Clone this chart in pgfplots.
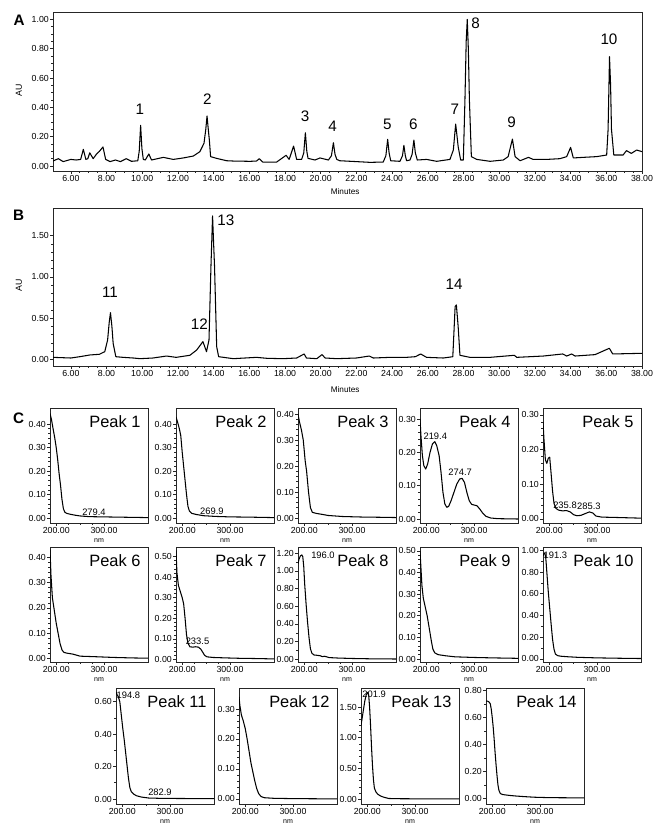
\documentclass[border=0pt]{standalone}
\usepackage{fontspec}
\setmainfont{Liberation Sans}
\usepackage{pgfplots}
\pgfplotsset{compat=1.18}

\tikzset{
  trace/.style={black, line width=0.9pt, mark=none, line join=round},
  pk/.style={anchor=north east, inner sep=0pt, xshift=-0.22cm, yshift=-0.23cm, font=\fontsize{14}{14}\selectfont},
  wl/.style={inner sep=0.5pt, font=\fontsize{8}{8}\selectfont},
  num/.style={inner sep=0pt, font=\fontsize{13}{13}\selectfont},
}
\pgfplotsset{
  base/.style={scale only axis, anchor=north west, clip mode=individual,
    /pgf/number format/assume math mode=true,
    scaled ticks=false, tick align=outside, tick pos=left,
    axis line style={black!85, line width=0.6pt},
    every tick/.style={black!85, line width=0.5pt},
    major tick length=2.4pt, minor tick length=1.4pt,
    ticklabel style={font=\fontsize{7.5}{8}\selectfont},
    yticklabel style={inner sep=1pt,/pgf/number format/.cd, fixed, fixed zerofill, precision=2},
    xticklabel style={inner sep=1pt,/pgf/number format/.cd, fixed, fixed zerofill, precision=2}},
  chrom/.style={base, width=17.67cm, xmin=5, xmax=38, xtick={6,8,...,38}, minor x tick num=3},
  spec/.style={base, width=2.94cm, height=3.45cm, xmin=187, xmax=392, xtick={200,300},
    minor x tick num=3, minor y tick num=4,
    xlabel={nm}, xlabel style={at={(axis description cs:0.5,0)}, anchor=center, yshift=-0.52cm, inner sep=0pt, font=\fontsize{6}{6}\selectfont}},
}

\begin{document}
\begin{tikzpicture}
\useasboundingbox (0,0) rectangle (19.92cm,-25.05cm);

\node[font=\bfseries\fontsize{13}{13}\selectfont] at (0.57cm,-0.6cm) {A};
\node[font=\bfseries\fontsize{13}{13}\selectfont] at (0.56cm,-6.45cm) {B};
\node[font=\bfseries\fontsize{13}{13}\selectfont] at (0.56cm,-12.54cm) {C};

% ---------- A ----------
\begin{axis}[chrom, at={(1.59cm,-0.36cm)}, height=4.77cm,
  ymin=-0.034, ymax=1.05, ytick={0,0.2,0.4,0.6,0.8,1.0}, minor y tick num=3]
\addplot[trace] coordinates {
(5.0,0.034)(5.3,0.050)(5.57,0.030)(6.0,0.045)(6.3,0.041)(6.55,0.045)(6.7,0.114)(6.84,0.045)
(6.95,0.05)(7.06,0.09)(7.25,0.05)(7.43,0.08)(7.6,0.10)(7.8,0.13)(7.95,0.045)(8.2,0.03)
(8.5,0.041)(8.78,0.03)(9.1,0.05)(9.4,0.032)(9.75,0.036)(9.83,0.10)(9.91,0.277)(9.98,0.12)
(10.06,0.045)(10.17,0.041)(10.37,0.082)(10.52,0.041)(11.18,0.059)(11.74,0.045)(12.3,0.055)
(12.86,0.068)(13.23,0.098)(13.46,0.155)(13.56,0.25)(13.63,0.341)(13.7,0.25)(13.76,0.177)
(13.83,0.064)(14.17,0.052)(14.73,0.036)(15.1,0.034)(16.04,0.032)(16.4,0.034)(16.56,0.05)
(16.75,0.027)(17.53,0.027)(18.06,0.073)(18.23,0.045)(18.48,0.136)(18.65,0.045)(18.93,0.045)
(19.05,0.09)(19.14,0.227)(19.22,0.10)(19.29,0.052)(19.68,0.041)(19.96,0.055)(20.43,0.041)
(20.6,0.07)(20.71,0.159)(20.8,0.08)(20.9,0.045)(21.07,0.036)(22.0,0.03)(22.76,0.025)
(23.5,0.027)(23.65,0.07)(23.75,0.182)(23.83,0.09)(23.92,0.036)(24.44,0.032)(24.58,0.07)
(24.66,0.141)(24.74,0.07)(24.81,0.036)(25.0,0.041)(25.12,0.08)(25.22,0.177)(25.3,0.09)
(25.41,0.041)(25.93,0.045)(26.5,0.032)(27.24,0.045)(27.43,0.109)(27.56,0.286)(27.64,0.2)
(27.7,0.132)(27.84,0.041)(27.99,0.041)(28.08,0.45)(28.15,0.85)(28.21,0.999)(28.27,0.8)
(28.33,0.45)(28.44,0.064)(28.74,0.045)(29.49,0.032)(30.23,0.041)(30.5,0.064)(30.74,0.184)
(30.89,0.064)(31.17,0.036)(31.64,0.059)(31.9,0.045)(32.66,0.045)(33.4,0.05)(33.78,0.064)
(34.0,0.127)(34.15,0.055)(34.7,0.059)(35.46,0.064)(36.02,0.075)(36.1,0.25)(36.18,0.745)
(36.24,0.55)(36.29,0.25)(36.42,0.075)(36.94,0.075)(37.13,0.105)(37.4,0.086)(37.7,0.109)
(38.0,0.098)};
\node[num] at (axis cs:9.87,0.39) {1};
\node[num] at (axis cs:13.65,0.455) {2};
\node[num] at (axis cs:19.13,0.336) {3};
\node[num] at (axis cs:20.67,0.27) {4};
\node[num] at (axis cs:23.73,0.284) {5};
\node[num] at (axis cs:25.19,0.284) {6};
\node[num] at (axis cs:27.52,0.386) {7};
\node[num] at (axis cs:28.68,0.973) {8};
\node[num] at (axis cs:30.7,0.295) {9};
\node[num] at (axis cs:36.15,0.866) {10};
\node[rotate=90, font=\fontsize{7.5}{8}\selectfont] at (axis description cs:-0.058,0.509) {AU};
\node[font=\fontsize{7}{7}\selectfont] at (axis description cs:0.496,-0.132) {Minutes};
\end{axis}

% ---------- B ----------
\begin{axis}[chrom, at={(1.59cm,-6.24cm)}, height=4.74cm,
  ymin=-0.081, ymax=1.836, ytick={0,0.5,1.0,1.5}, minor y tick num=4]
\addplot[trace] coordinates {
(5.0,0.024)(6.0,0.016)(6.5,0.032)(7.07,0.053)(7.6,0.061)(7.9,0.093)(8.06,0.235)(8.15,0.45)
(8.22,0.567)(8.3,0.40)(8.37,0.194)(8.52,0.032)(8.93,0.024)(9.5,0.016)(9.87,0.008)(10.6,0.016)
(11.36,0.040)(11.9,0.024)(12.67,0.049)(13.05,0.113)(13.4,0.215)(13.6,0.093)(13.74,0.235)
(13.85,1.13)(13.94,1.74)(14.0,1.4)(14.05,1.13)(14.17,0.154)(14.28,0.032)(15.1,0.008)
(16.4,0.024)(17.0,0.012)(17.9,0.008)(18.65,0.016)(19.07,0.065)(19.2,0.016)(19.78,0.008)
(20.07,0.057)(20.25,0.016)(20.9,0.008)(22.0,0.016)(22.72,0.04)(22.95,0.016)(23.88,0.024)
(24.8,0.024)(25.3,0.032)(25.6,0.065)(25.93,0.024)(26.87,0.016)(27.4,0.032)(27.53,0.64)
(27.6,0.66)(27.7,0.397)(27.8,0.049)(28.36,0.024)(29.48,0.024)(30.85,0.049)(30.98,0.024)
(32.47,0.040)(33.56,0.065)(33.78,0.040)(34.06,0.065)(34.25,0.040)(35.37,0.057)(36.17,0.134)
(36.36,0.065)(38.0,0.073)};
\node[num] at (axis cs:8.19,0.81) {11};
\node[num] at (axis cs:13.2,0.43) {12};
\node[num] at (axis cs:14.69,1.69) {13};
\node[num] at (axis cs:27.47,0.91) {14};
\node[rotate=90, font=\fontsize{7.5}{8}\selectfont] at (axis description cs:-0.058,0.513) {AU};
\node[font=\fontsize{7}{7}\selectfont] at (axis description cs:0.496,-0.152) {Minutes};
\end{axis}

% ---------- C, row 1 ----------
\begin{axis}[spec, at={(1.5cm,-12.24cm)}, ymin=-0.021, ymax=0.468, ytick={0,0.1,0.2,0.3,0.4}]
\addplot[trace] coordinates {(187,0.445)(190,0.42)(193,0.385)(197,0.34)(200,0.30)(203,0.25)(206,0.19)
(209,0.14)(212,0.08)(215,0.04)(218,0.025)(222,0.02)(230,0.016)(240,0.012)(250,0.009)(270,0.006)
(300,0.005)(330,0.004)(360,0.003)(392,0.002)};
\node[pk] at (rel axis cs:1,1) {Peak 1};
\node[wl, anchor=south] at (axis cs:279,0.008) {279.4};
\end{axis}

\begin{axis}[spec, at={(5.28cm,-12.24cm)}, ymin=-0.021, ymax=0.468, ytick={0,0.1,0.2,0.3,0.4}]
\addplot[trace] coordinates {(187,0.43)(190,0.41)(194,0.38)(197,0.35)(200,0.28)(203,0.22)(206,0.16)
(209,0.10)(212,0.05)(215,0.03)(220,0.02)(230,0.015)(245,0.01)(270,0.007)(300,0.005)(340,0.004)(392,0.002)};
\node[pk] at (rel axis cs:1,1) {Peak 2};
\node[wl, anchor=south] at (axis cs:262,0.01) {269.9};
\end{axis}

\begin{axis}[spec, at={(8.94cm,-12.24cm)}, ymin=-0.019, ymax=0.423, ytick={0,0.1,0.2,0.3,0.4}]
\addplot[trace] coordinates {(187,0.40)(190,0.37)(194,0.34)(198,0.30)(202,0.22)(205,0.18)(209,0.10)
(213,0.04)(217,0.022)(225,0.018)(235,0.015)(250,0.01)(280,0.006)(320,0.004)(360,0.003)(392,0.002)};
\node[pk] at (rel axis cs:1,1) {Peak 3};
\end{axis}

\begin{axis}[spec, at={(12.6cm,-12.24cm)}, ymin=-0.012, ymax=0.333, ytick={0,0.1,0.2,0.3}]
\addplot[trace] coordinates {(187,0.30)(189,0.25)(192,0.19)(195,0.16)(199,0.15)(203,0.165)(208,0.20)
(213,0.225)(218,0.232)(222,0.22)(227,0.19)(231,0.14)(235,0.08)(239,0.045)(243,0.035)(247,0.038)
(252,0.055)(258,0.08)(264,0.105)(270,0.12)(275,0.122)(280,0.11)(285,0.08)(290,0.055)(295,0.044)
(300,0.042)(306,0.04)(312,0.03)(318,0.018)(325,0.008)(335,0.003)(350,0.001)(392,0.0)};
\node[pk] at (rel axis cs:1,1) {Peak 4};
\node[wl, anchor=south] at (axis cs:219,0.236) {219.4};
\node[wl, anchor=south] at (axis cs:271,0.127) {274.7};
\end{axis}

\begin{axis}[spec, at={(16.29cm,-12.24cm)}, ymin=-0.012, ymax=0.32, ytick={0,0.1,0.2,0.3}]
\addplot[trace] coordinates {(187,0.28)(189,0.23)(192,0.17)(195,0.16)(198,0.175)(201,0.178)(204,0.13)
(207,0.08)(210,0.045)(214,0.03)(220,0.025)(228,0.023)(236,0.024)(244,0.02)(251,0.012)(258,0.009)
(266,0.01)(275,0.015)(284,0.02)(291,0.017)(298,0.008)(310,0.005)(340,0.004)(392,0.002)};
\node[pk] at (rel axis cs:1,1) {Peak 5};
\node[wl, anchor=south] at (axis cs:233,0.027) {235.8};
\node[wl, anchor=south] at (axis cs:283,0.025) {285.3};
\end{axis}

% ---------- C, row 2 ----------
\begin{axis}[spec, at={(1.5cm,-16.41cm)}, ymin=-0.013, ymax=0.44, ytick={0,0.1,0.2,0.3,0.4}]
\addplot[trace] coordinates {(187,0.43)(189,0.33)(192,0.24)(196,0.19)(200,0.14)(204,0.10)(208,0.06)
(212,0.035)(216,0.025)(222,0.022)(235,0.018)(250,0.01)(280,0.008)(320,0.005)(360,0.003)(392,0.002)};
\node[pk] at (rel axis cs:1,1) {Peak 6};
\end{axis}

\begin{axis}[spec, at={(5.28cm,-16.41cm)}, ymin=-0.012, ymax=0.546, ytick={0,0.1,0.2,0.3,0.4,0.5}]
\addplot[trace] coordinates {(187,0.53)(189,0.42)(192,0.36)(196,0.33)(200,0.30)(203,0.27)(206,0.20)
(209,0.12)(212,0.08)(216,0.062)(222,0.06)(228,0.062)(234,0.06)(239,0.05)(243,0.035)(247,0.02)
(252,0.013)(265,0.01)(290,0.008)(320,0.006)(350,0.005)(392,0.003)};
\node[pk] at (rel axis cs:1,1) {Peak 7};
\node[wl] at (axis cs:232,0.09) {233.5};
\end{axis}

\begin{axis}[spec, at={(8.94cm,-16.41cm)}, ymin=-0.03, ymax=1.27, ytick={0,0.2,0.4,0.6,0.8,1.0,1.2}, minor y tick num=1]
\addplot[trace] coordinates {(187,1.08)(189,1.13)(192,1.17)(195,1.18)(197,1.16)(199,1.05)(201,0.85)
(204,0.62)(207,0.42)(210,0.25)(213,0.12)(216,0.07)(220,0.05)(228,0.045)(234,0.04)(238,0.03)
(242,0.035)(246,0.03)(252,0.02)(270,0.015)(300,0.01)(340,0.006)(392,0.004)};
\node[pk] at (rel axis cs:1,1) {Peak 8};
\node[wl, anchor=west] at (axis cs:213,1.18) {196.0};
\end{axis}

\begin{axis}[spec, at={(12.6cm,-16.41cm)}, ymin=-0.014, ymax=0.518, ytick={0,0.1,0.2,0.3,0.4,0.5}]
\addplot[trace] coordinates {(187,0.50)(189,0.42)(191,0.34)(194,0.28)(198,0.24)(202,0.20)(205,0.16)
(208,0.12)(211,0.08)(214,0.045)(218,0.028)(225,0.02)(240,0.015)(260,0.01)(300,0.007)(340,0.005)(392,0.003)};
\node[pk] at (rel axis cs:1,1) {Peak 9};
\end{axis}

\begin{axis}[spec, at={(16.29cm,-16.41cm)}, ymin=-0.028, ymax=1.03, ytick={0,0.2,0.4,0.6,0.8,1.0}, minor y tick num=1]
\addplot[trace] coordinates {(187,0.95)(189,0.97)(191,0.975)(193,0.92)(195,0.80)(198,0.62)(201,0.47)
(204,0.32)(207,0.18)(210,0.09)(213,0.045)(218,0.03)(225,0.025)(240,0.02)(260,0.015)(300,0.01)
(340,0.007)(392,0.004)};
\node[pk] at (rel axis cs:1,1) {Peak 10};
\node[wl] at (axis cs:213,0.955) {191.3};
\end{axis}

% ---------- C, row 3 ----------
\begin{axis}[spec, at={(3.48cm,-20.64cm)}, height=3.48cm, ymin=-0.031, ymax=0.685, ytick={0,0.2,0.4,0.6}, minor y tick num=1]
\addplot[trace] coordinates {(187,0.66)(189,0.645)(192,0.63)(195,0.60)(198,0.52)(201,0.44)(204,0.37)
(207,0.29)(210,0.21)(213,0.13)(216,0.07)(219,0.045)(224,0.03)(230,0.02)(240,0.012)(255,0.006)
(280,0.004)(320,0.003)(392,0.002)};
\node[pk] at (rel axis cs:1,1) {Peak 11};
\node[wl] at (axis cs:213,0.642) {194.8};
\node[wl] at (axis cs:279,0.039) {282.9};
\end{axis}

\begin{axis}[spec, at={(7.17cm,-20.64cm)}, height=3.48cm, ymin=-0.017, ymax=0.37, ytick={0,0.1,0.2,0.3}]
\addplot[trace] coordinates {(187,0.34)(189,0.31)(192,0.28)(196,0.26)(200,0.235)(204,0.20)(208,0.16)
(212,0.12)(216,0.09)(220,0.06)(224,0.035)(228,0.018)(233,0.008)(240,0.004)(260,0.002)(300,0.001)(392,0.0)};
\node[pk] at (rel axis cs:1,1) {Peak 12};
\end{axis}

\begin{axis}[spec, at={(10.83cm,-20.64cm)}, height=3.48cm, ymin=-0.08, ymax=1.81, ytick={0,0.5,1.0,1.5}]
\addplot[trace] coordinates {(187,1.20)(189,1.30)(192,1.45)(195,1.60)(198,1.70)(201,1.74)(203,1.70)
(205,1.50)(207,1.20)(209,0.85)(211,0.55)(213,0.32)(215,0.18)(218,0.12)(222,0.08)(228,0.05)
(235,0.03)(245,0.01)(270,0.006)(320,0.004)(392,0.003)};
\node[pk] at (rel axis cs:1,1) {Peak 13};
\node[wl] at (axis cs:214.6,1.70) {201.9};
\end{axis}

\begin{axis}[spec, at={(14.58cm,-20.64cm)}, height=3.48cm, ymin=-0.042, ymax=0.817, ytick={0,0.2,0.4,0.6,0.8}, minor y tick num=1]
\addplot[trace] coordinates {(187,0.72)(190,0.72)(193,0.715)(196,0.70)(198,0.66)(200,0.60)(202,0.53)
(204,0.44)(206,0.34)(208,0.25)(210,0.17)(212,0.10)(214,0.06)(217,0.035)(222,0.028)(235,0.022)
(250,0.017)(270,0.012)(290,0.008)(320,0.005)(360,0.004)(392,0.003)};
\node[pk] at (rel axis cs:1,1) {Peak 14};
\end{axis}
\end{tikzpicture}
\end{document}
